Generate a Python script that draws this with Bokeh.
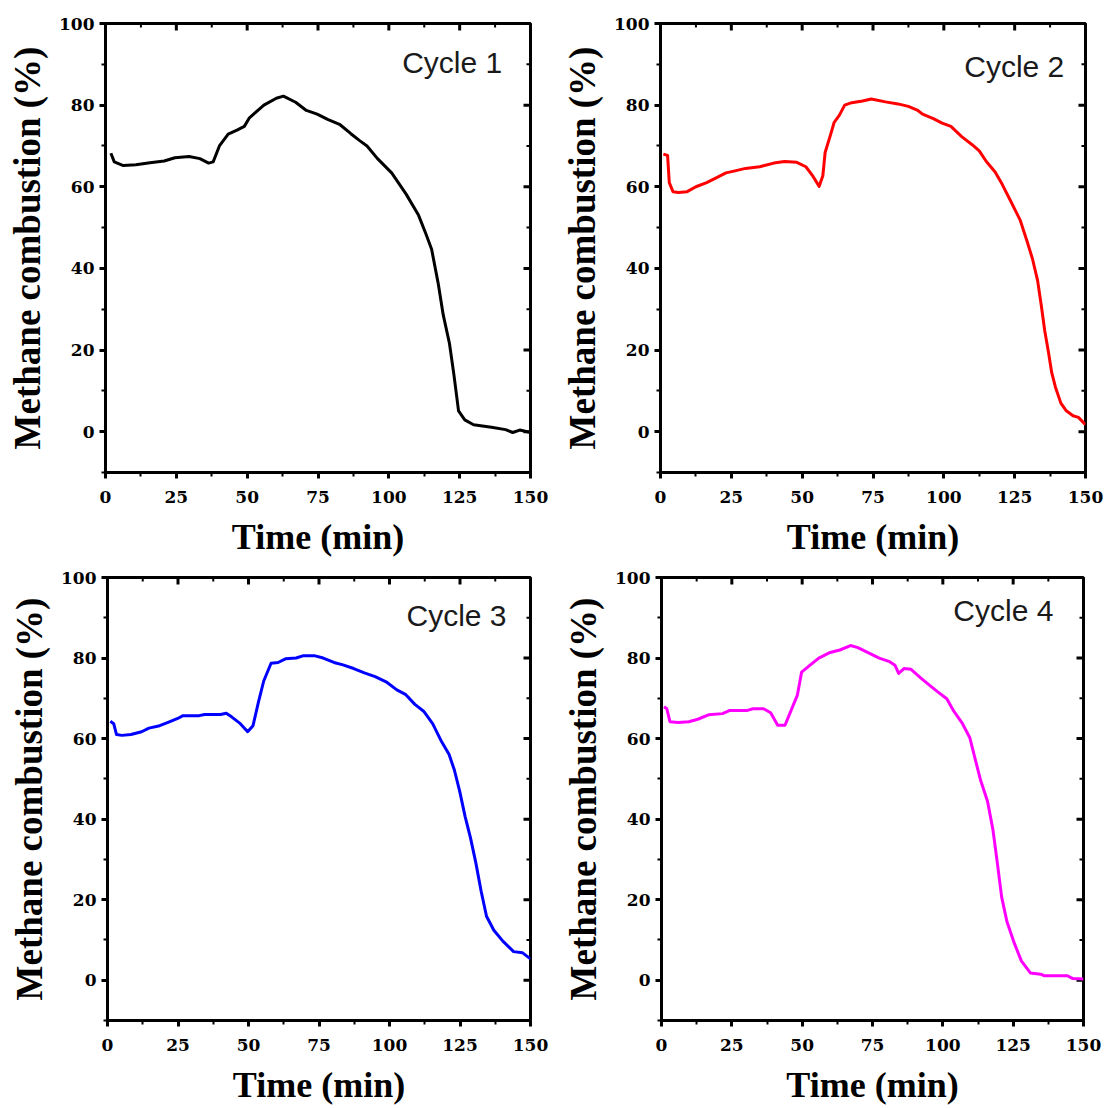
from bokeh.plotting import figure
from bokeh.models import FixedTicker, Range1d, Label
from bokeh.layouts import column, row
from bokeh.embed import file_html
from bokeh.resources import INLINE

# ---------------- data ----------------
X_LIMITS = (0, 150)
Y_LIMITS = (-10, 100)
X_MAJOR = [0, 25, 50, 75, 100, 125, 150]
X_MINOR = [12.5, 37.5, 62.5, 87.5, 112.5, 137.5]
Y_MAJOR = [0, 20, 40, 60, 80, 100]
Y_MINOR = [-10, 10, 30, 50, 70, 90]

cycle_names = ["Cycle 1", "Cycle 2", "Cycle 3", "Cycle 4"]
cycle_colors = ["#000000", "#ff0000", "#0000ff", "#ff00ff"]

time_1 = [1.9, 3.1, 6.3, 10.7, 15.7, 20.7, 24.5, 29.5, 33.3, 36.4, 38.0, 40.2, 43.3, 46.4, 49.0,
          50.8, 55.9, 60.3, 62.8, 67.1, 70.9, 74.7, 78.4, 82.8, 86.6, 89.7, 92.3, 96.0, 101.0, 106.1,
          110.5, 113.0, 115.1, 117.4, 119.2, 121.4, 123.0, 124.6, 126.8, 129.9, 136.2, 141.2, 143.7,
          146.2, 150.0]
conv_1 = [68.2, 66.1, 65.2, 65.4, 65.9, 66.3, 67.1, 67.4, 66.9, 65.8, 66.1, 70.0, 72.9, 73.9, 74.8,
          76.9, 80.0, 81.7, 82.2, 80.7, 78.7, 77.8, 76.5, 75.2, 73.0, 71.3, 70.0, 66.9, 63.4, 58.2,
          53.0, 48.6, 44.7, 36.4, 28.6, 21.6, 13.8, 5.1, 2.9, 1.7, 1.1, 0.5, -0.2, 0.4, -0.2]

time_2 = [1.0, 2.5, 3.1, 4.4, 6.3, 9.4, 12.5, 16.3, 20.0, 23.1, 26.3, 30.0, 35.0, 40.0, 43.8,
          48.1, 51.3, 53.8, 56.0, 57.3, 58.1, 60.0, 61.3, 63.1, 65.0, 67.5, 71.3, 74.4, 79.4, 83.8,
          87.5, 90.6, 92.5, 96.3, 99.4, 102.5, 106.3, 110.0, 112.5, 115.0, 118.1, 120.6, 123.8, 126.9,
          129.4, 131.3, 133.1, 134.4, 135.6, 136.9, 138.1, 139.4, 141.3, 143.1, 145.6, 147.5, 150.0]
conv_2 = [68.0, 67.7, 61.0, 58.8, 58.6, 58.8, 60.0, 61.0, 62.3, 63.4, 63.9, 64.5, 64.9, 65.8, 66.2,
          66.0, 64.9, 62.6, 60.1, 62.7, 68.4, 72.7, 75.8, 77.5, 80.0, 80.6, 81.0, 81.5, 80.8, 80.3,
          79.7, 78.8, 77.8, 76.7, 75.6, 74.8, 72.3, 70.3, 68.8, 66.2, 63.6, 60.6, 56.2, 51.9,
          46.6, 42.3, 37.0, 30.9, 24.8, 19.6, 14.4, 10.9, 7.0, 5.2, 3.9, 3.5, 1.7]

time_3 = [1.0, 2.2, 3.2, 5.1, 8.3, 12.1, 14.7, 18.5, 21.7, 24.9, 26.8, 32.5, 34.4, 40.1, 42.1,
          44.0, 47.1, 49.7, 51.6, 53.5, 55.4, 58.0, 60.5, 63.1, 66.9, 69.5, 73.3, 76.5, 80.3, 83.5,
          87.3, 91.1, 94.9, 98.8, 102.6, 105.8, 109.0, 112.1, 115.3, 118.5, 121.1, 123.0, 124.9,
          126.8, 128.7, 130.6, 132.5, 134.4, 137.0, 140.2, 144.0, 147.2, 150.0]
conv_3 = [64.3, 63.7, 61.0, 60.8, 61.0, 61.7, 62.6, 63.2, 64.1, 65.0, 65.7, 65.7, 66.0, 66.0, 66.3,
          65.4, 63.7, 61.7, 63.2, 69.0, 74.3, 78.7, 78.9, 79.8, 80.0, 80.6, 80.6, 80.0, 78.9, 78.3,
          77.4, 76.3, 75.4, 74.1, 72.1, 70.9, 68.5, 66.8, 63.7, 59.2, 56.1, 52.2, 46.9,
          40.7, 35.4, 29.2, 22.1, 15.9, 12.4, 9.7, 7.1, 6.8, 5.3]

time_4 = [0.9, 1.9, 3.0, 5.9, 9.7, 12.9, 16.7, 21.7, 24.3, 30.6, 32.5, 36.3, 38.8, 41.3, 43.9,
          45.7, 48.3, 49.8, 52.7, 55.9, 59.6, 63.4, 67.2, 69.8, 73.6, 77.4, 81.1, 83.0, 84.3, 86.2,
          88.7, 91.9, 95.0, 98.2, 101.4, 103.9, 107.0, 109.6, 111.5, 113.4, 115.9, 117.8, 119.3,
          120.9, 122.8, 125.4, 127.9, 131.1, 134.8, 136.1, 144.3, 146.2, 150.0]
conv_4 = [67.9, 67.4, 64.2, 64.0, 64.2, 64.8, 65.9, 66.2, 67.0, 67.0, 67.4, 67.4, 66.4, 63.3, 63.3,
          66.4, 70.8, 76.5, 78.2, 80.0, 81.3, 82.0, 83.1, 82.6, 81.3, 80.0, 79.1, 78.2, 76.2, 77.4,
          77.2, 75.2, 73.4, 71.6, 69.9, 66.8, 63.7, 60.2, 54.9, 49.7, 44.4, 37.4, 29.5,
          20.7, 14.5, 9.2, 4.8, 1.8, 1.5, 1.1, 1.1, 0.4, 0.3]

X_TITLE = "Time (min)"
Y_TITLE = "Methane combustion (%)"


def style_axis(ax):
    ax.axis_line_width = 3
    ax.axis_line_color = "black"
    ax.major_tick_line_width = 3
    ax.minor_tick_line_width = 2
    ax.major_tick_line_color = "black"
    ax.minor_tick_line_color = "black"
    ax.major_tick_in = 0
    ax.major_tick_out = 6
    ax.minor_tick_in = 0
    ax.minor_tick_out = 4
    ax.major_label_text_font = "DejaVu Serif"
    ax.major_label_text_font_style = "bold"
    ax.major_label_text_font_size = "17px"
    ax.major_label_text_color = "black"
    ax.axis_label_text_font = "Liberation Serif"
    ax.axis_label_text_font_style = "bold"
    ax.axis_label_text_color = "black"


def panel(t, v, color, name, lx, ly, w, h, bl, br, bt, bb):
    p = figure(width=w, height=h, x_range=Range1d(*X_LIMITS), y_range=Range1d(*Y_LIMITS),
               output_backend="svg", toolbar_location=None,
               min_border_left=bl, min_border_right=br, min_border_top=bt, min_border_bottom=bb,
               x_axis_label=X_TITLE, y_axis_label=Y_TITLE)
    p.grid.visible = False
    p.outline_line_color = "black"
    p.outline_line_width = 3
    p.background_fill_color = "white"
    p.border_fill_color = "white"

    xa = p.xaxis[0]
    xa.ticker = FixedTicker(ticks=X_MAJOR, minor_ticks=X_MINOR)
    style_axis(xa)
    xa.major_label_standoff = 12
    xa.axis_label_standoff = 11
    xa.axis_label_text_font_size = "36px"

    ya = p.yaxis[0]
    ya.ticker = FixedTicker(ticks=Y_MAJOR, minor_ticks=Y_MINOR)
    style_axis(ya)
    ya.major_label_standoff = 5
    ya.axis_label_standoff = 8
    ya.axis_label_text_font_size = "37px"

    # inward ticks on the top and right frame edges (mirrors of the bottom/left tickers)
    p.ray(x=X_MAJOR, y=[Y_LIMITS[1]] * len(X_MAJOR), length=7, length_units="screen",
          angle=-90, angle_units="deg", line_color="black", line_width=3)
    p.ray(x=X_MINOR, y=[Y_LIMITS[1]] * len(X_MINOR), length=4, length_units="screen",
          angle=-90, angle_units="deg", line_color="black", line_width=2)
    p.ray(x=[X_LIMITS[1]] * len(Y_MAJOR), y=Y_MAJOR, length=7, length_units="screen",
          angle=180, angle_units="deg", line_color="black", line_width=3)
    p.ray(x=[X_LIMITS[1]] * len(Y_MINOR), y=Y_MINOR, length=4, length_units="screen",
          angle=180, angle_units="deg", line_color="black", line_width=2)

    p.line(t, v, line_color=color, line_width=3, line_join="round")

    p.add_layout(Label(x=lx, y=ly, text=name, text_align="right", text_baseline="middle",
                       text_font="Liberation Sans", text_font_size="30px", text_color="#1a1a1a"))
    return p


p1 = panel(time_1, conv_1, cycle_colors[0], cycle_names[0], 140.0, 90.5, 553, 562, 105, 23, 23, 90)
p2 = panel(time_2, conv_2, cycle_colors[1], cycle_names[1], 142.5, 89.5, 552, 562, 107, 20, 22, 88)
p3 = panel(time_3, conv_3, cycle_colors[2], cycle_names[2], 141.5, 90.6, 553, 545, 107, 23, 15, 87)
p4 = panel(time_4, conv_4, cycle_colors[3], cycle_names[3], 139.3, 91.8, 552, 545, 108, 22, 15, 85)

layout = column(row(p1, p2), row(p3, p4))

open("out.html", "w").write(file_html(layout, INLINE))
